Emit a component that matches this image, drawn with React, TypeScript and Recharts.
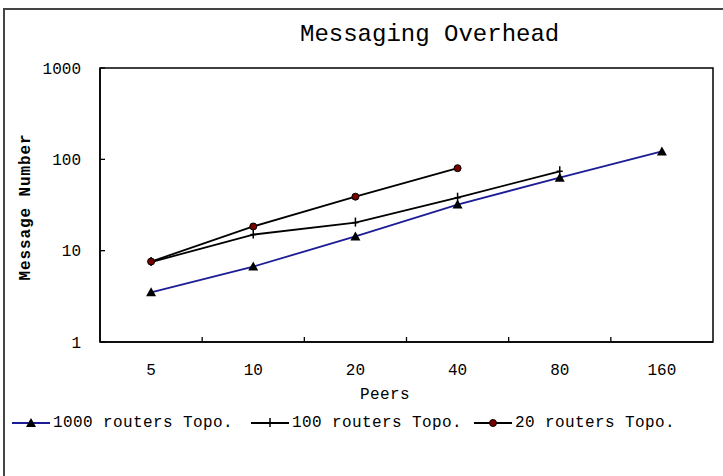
import React from 'react'
import { LineChart, Line, XAxis, YAxis, ReferenceArea } from 'recharts'

// peers per run (x categories)
const peers = ['5', '10', '20', '40', '80', '160']
// message counts
const routers1000 = [3.5, 6.7, 14.3, 32, 63, 122]
const routers100 = [7.5, 15, 20.3, 38, 74, null]
const routers20 = [7.6, 18.4, 39, 80, null, null]
const yTicks = [1, 10, 100, 1000]

// categories sit in the middle of equal slots, tick marks between them
const slotCenters = peers.map((_, i) => i + 0.5)

const data = peers.map((p, i) => ({
  pos: slotCenters[i],
  r1000: routers1000[i],
  r100: routers100[i],
  r20: routers20[i],
}))

const FONT = '"Liberation Mono", "DejaVu Sans Mono", monospace'
const BLUE = '#1c1c96'

const W = 723
const H = 476
const MARGIN = { top: 68, right: 10, bottom: 104, left: 0 }
const Y_AXIS_W = 100
const SLOT = (W - MARGIN.left - MARGIN.right - Y_AXIS_W) / peers.length
const X_GAP = 22
const Y_GAP = 19

const Triangle = (props: any) => {
  const { cx, cy } = props
  if (cx == null || cy == null) return null
  return <path d={`M${cx},${cy - 5}L${cx - 5},${cy + 4}L${cx + 5},${cy + 4}Z`} fill="#000" />
}

const Bar2 = (props: any) => {
  const { cx, cy } = props
  if (cx == null || cy == null) return null
  return (
    <g stroke="#000" strokeWidth={1.5}>
      <line x1={cx} x2={cx} y1={cy - 5} y2={cy + 4} />
      <line x1={cx - 3} x2={cx + 3} y1={cy} y2={cy} />
    </g>
  )
}

const Circle = (props: any) => {
  const { cx, cy } = props
  if (cx == null || cy == null) return null
  return <circle cx={cx} cy={cy} r={3.5} fill="#7a0000" stroke="#000" strokeWidth={1} />
}

// label in the slot middle, small inward mark on the slot's right edge
const PeerTick = (props: any) => {
  const { x, y, payload, index } = props
  const bx = x + SLOT / 2
  return (
    <g>
      <text x={x} y={y} dy="0.71em" textAnchor="middle" fill="#000" fontSize={16} fontFamily={FONT}>
        {peers[Math.round(payload.value - 0.5)]}
      </text>
      {index < peers.length - 1 && (
        <line x1={bx} x2={bx} y1={y - X_GAP} y2={y - X_GAP - 5} stroke="#000" strokeWidth={1.3} />
      )}
    </g>
  )
}

const ValueTick = (props: any) => {
  const { x, y, payload } = props
  const ax = x + Y_GAP
  return (
    <g>
      <text x={x} y={y} dy="0.355em" textAnchor="end" fill="#000" fontSize={16} fontFamily={FONT}>
        {payload.value}
      </text>
      <line x1={ax} x2={ax + 5} y1={y} y2={y} stroke="#000" strokeWidth={1.3} />
    </g>
  )
}

const legendItems = [
  { name: '1000 routers Topo.', color: BLUE, marker: 'tri', left: 12 },
  { name: '100 routers Topo.', color: '#000', marker: 'bar', left: 251 },
  { name: '20 routers Topo.', color: '#000', marker: 'dot', left: 474 },
]

const LegendMark = ({ color, marker }: { color: string; marker: string }) => (
  <svg width={38} height={14} style={{ display: 'block' }}>
    <line x1={0} x2={38} y1={7} y2={7} stroke={color} strokeWidth={1.8} />
    {marker === 'tri' && <Triangle cx={19} cy={7} />}
    {marker === 'bar' && <Bar2 cx={19} cy={7} />}
    {marker === 'dot' && <Circle cx={19} cy={7} />}
  </svg>
)

export default function App() {
  return (
    <div style={{ position: 'absolute', left: 0, top: 0, width: W, height: H, overflow: 'hidden', background: '#fff', fontFamily: FONT }}>
      <div style={{ position: 'absolute', left: 3, top: 8, width: 800, height: 600, border: '2px solid #444' }} />
      <div style={{ position: 'absolute', left: 0, top: 0 }}>
        <LineChart width={W} height={H} data={data} margin={MARGIN}>
          <XAxis
            xAxisId="x"
            dataKey="pos"
            type="number"
            domain={[0, 6]}
            allowDataOverflow
            ticks={slotCenters}
            interval={0}
            height={30}
            tick={<PeerTick />}
            tickLine={false}
            tickSize={0}
            tickMargin={X_GAP}
            axisLine={{ stroke: '#000', strokeWidth: 1.5 }}
          />
          <YAxis
            scale="log"
            domain={[1, 1000]}
            ticks={yTicks}
            interval={0}
            width={Y_AXIS_W}
            tickLine={false}
            tickSize={0}
            tickMargin={Y_GAP}
            tick={<ValueTick />}
            axisLine={{ stroke: '#000', strokeWidth: 1.5 }}
            allowDataOverflow
          />
          <ReferenceArea xAxisId="x" x1={0} x2={6} y1={1} y2={1000} fill="none" stroke="#000" strokeWidth={1.5} ifOverflow="visible" />
          <Line xAxisId="x" dataKey="r1000" stroke={BLUE} strokeWidth={1.8} dot={<Triangle />} activeDot={false} isAnimationActive={false} />
          <Line xAxisId="x" dataKey="r100" stroke="#000" strokeWidth={1.8} dot={<Bar2 />} activeDot={false} isAnimationActive={false} />
          <Line xAxisId="x" dataKey="r20" stroke="#000" strokeWidth={1.8} dot={<Circle />} activeDot={false} isAnimationActive={false} />
        </LineChart>
      </div>
      <div style={{ position: 'absolute', left: 300, top: 22, width: 257, textAlign: 'center', fontSize: 24, lineHeight: '26px', color: '#000', whiteSpace: 'nowrap' }}>
        Messaging Overhead
      </div>
      <div style={{ position: 'absolute', left: 26, top: 207, transform: 'translate(-50%, -50%) rotate(-90deg)', fontSize: 16, fontWeight: 'bold', letterSpacing: 0.9, whiteSpace: 'nowrap', lineHeight: '16px' }}>
        Message Number
      </div>
      <div style={{ position: 'absolute', left: 360, top: 386, fontSize: 16, lineHeight: '18px', letterSpacing: 0.4 }}>Peers</div>
      {legendItems.map((it) => (
        <div key={it.name} style={{ position: 'absolute', left: it.left, top: 414, display: 'flex', alignItems: 'center', fontSize: 16, lineHeight: '18px', letterSpacing: 0.4, whiteSpace: 'nowrap' }}>
          <LegendMark color={it.color} marker={it.marker} />
          <span style={{ marginLeft: 3 }}>{it.name}</span>
        </div>
      ))}
    </div>
  )
}
